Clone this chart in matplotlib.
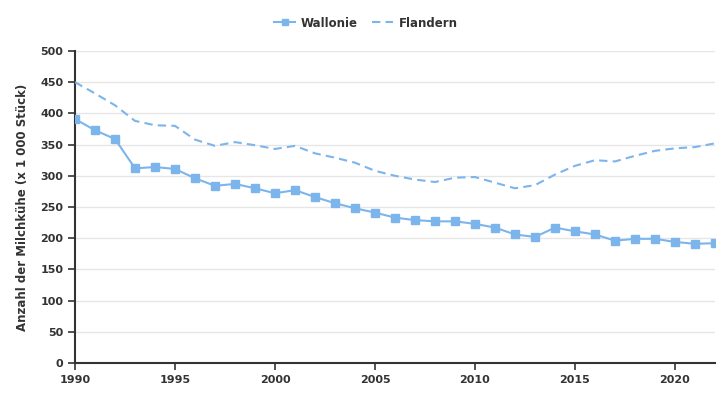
import matplotlib
matplotlib.use("Agg")
import matplotlib.pyplot as plt

years = list(range(1990, 2023))
wallonie = [391, 373, 359, 312, 314, 311, 296, 284, 287, 280, 272, 277, 266, 256, 248,
            241, 233, 229, 227, 227, 223, 217, 206, 202, 217, 211, 206, 196, 199, 199,
            194, 191, 192]
flandern = [450, 432, 413, 388, 381, 380, 358, 348, 354, 349, 343, 348, 336, 329, 321,
            308, 300, 294, 290, 297, 298, 289, 280, 285, 302, 316, 325, 323, 332, 340,
            344, 346, 352]
y_ticks = list(range(0, 501, 50))
x_ticks = [1990, 1995, 2000, 2005, 2010, 2015, 2020]

color = "#7cb5ec"
text_color = "#333333"

fig = plt.figure(figsize=(7.25, 4.0), dpi=100)
ax = fig.add_axes([75/725, 37/400, 640/725, 312/400])

ax.plot(years, wallonie, color=color, lw=1.5, marker="s", markersize=5.8,
        label="Wallonie", zorder=3)
ax.plot(years, flandern, color=color, lw=1.5, dashes=(4, 2.5),
        label="Flandern", zorder=3)

ax.set_xlim(1990, 2022)
ax.set_ylim(0, 500)
ax.set_yticks(y_ticks)
ax.set_xticks(x_ticks)
ax.grid(axis="y", color="#e6e6e6", lw=1)
ax.set_axisbelow(True)
for s in ["top", "right"]:
    ax.spines[s].set_visible(False)
for s in ["left", "bottom"]:
    ax.spines[s].set_color("#333333")
    ax.spines[s].set_linewidth(1.5)
ax.tick_params(axis="both", colors="#333333", width=1.2, length=5, labelsize=8,
               labelcolor=text_color)
for lab in ax.get_xticklabels() + ax.get_yticklabels():
    lab.set_fontweight("bold")
ax.set_ylabel("Anzahl der Milchkühe (x 1 000 Stück)", fontsize=8.5, fontweight="bold",
              color=text_color, labelpad=8)

leg = fig.legend(loc="upper center", bbox_to_anchor=(0.505, 0.985), ncol=2, frameon=False,
                 prop={"weight": "bold", "size": 8.5}, handlelength=1.8, columnspacing=1.2,
                 handletextpad=0.5, markerscale=0.8)
for t in leg.get_texts():
    t.set_color(text_color)

fig.savefig("out.png", dpi=100)
